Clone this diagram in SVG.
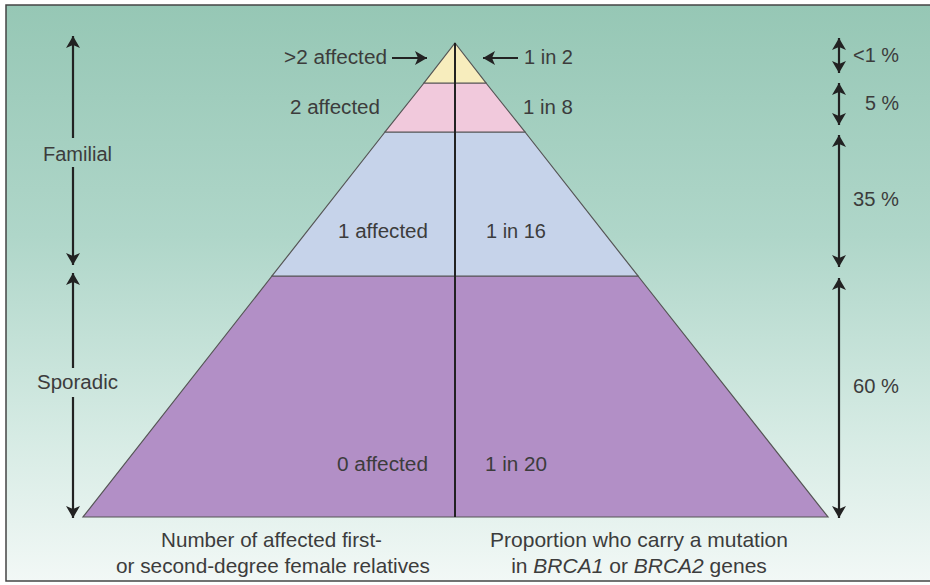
<svg xmlns="http://www.w3.org/2000/svg" width="930" height="585" viewBox="0 0 930 585">
<defs>
<linearGradient id="bg" x1="0" y1="0" x2="0" y2="1">
<stop offset="0" stop-color="#96c7b5"/>
<stop offset="0.4" stop-color="#afd6c9"/>
<stop offset="0.75" stop-color="#d6ebe4"/>
<stop offset="1" stop-color="#f2f8f6"/>
</linearGradient>
<marker id="ah" markerUnits="userSpaceOnUse" markerWidth="14" markerHeight="14" refX="12" refY="7" orient="auto-start-reverse" viewBox="0 0 14 14">
<path d="M0,0 L12,7 L0,14 L3,7 Z" fill="#222"/>
</marker>
<style>
.t{font-family:"Liberation Sans",Arial,sans-serif;font-size:20px;fill:#3c3c3c}
.b{font-family:"Liberation Sans",Arial,sans-serif;font-size:21px;fill:#3c3c3c}
.band{stroke:#555;stroke-width:1.2}
.arr{stroke:#222;stroke-width:2.2;fill:none;marker-start:url(#ah);marker-end:url(#ah)}
.sarr{stroke:#222;stroke-width:2.2;fill:none;marker-end:url(#ah)}
</style>
</defs>
<rect x="6" y="5" width="940" height="576" fill="url(#bg)" stroke="#444" stroke-width="1.5"/>

<g id="pyramid">
<polygon id="band-purple" class="band" points="272,276 638,276 828,517 83,517" fill="#b28fc6"/>
<polygon id="band-blue" class="band" points="385,132 525,132 638,276 272,276" fill="#c6d3ea"/>
<polygon id="band-pink" class="band" points="424,83 486,83 525,132 385,132" fill="#f1c9dc"/>
<polygon id="band-yellow" class="band" points="455,43 486,83 424,83" fill="#f7edbd"/>
<line x1="455" y1="43" x2="455" y2="517" stroke="#222" stroke-width="2"/>
</g>

<g id="labels-left">
<text class="t" x="284" y="64" textLength="103" lengthAdjust="spacingAndGlyphs">&gt;2 affected</text>
<text class="t" x="290" y="114" textLength="90" lengthAdjust="spacingAndGlyphs">2 affected</text>
<text class="t" x="338" y="238" textLength="90" lengthAdjust="spacingAndGlyphs">1 affected</text>
<text class="t" x="337" y="471" textLength="91" lengthAdjust="spacingAndGlyphs">0 affected</text>
</g>
<g id="labels-right">
<text class="t" x="524" y="64" textLength="49" lengthAdjust="spacingAndGlyphs">1 in 2</text>
<text class="t" x="523" y="114" textLength="50" lengthAdjust="spacingAndGlyphs">1 in 8</text>
<text class="t" x="486" y="238" textLength="60" lengthAdjust="spacingAndGlyphs">1 in 16</text>
<text class="t" x="485" y="471" textLength="62" lengthAdjust="spacingAndGlyphs">1 in 20</text>
</g>

<g id="familial">
<text class="t" x="43" y="161" textLength="69" lengthAdjust="spacingAndGlyphs">Familial</text>
</g>
<g id="sporadic">
<text class="t" x="37" y="389" textLength="81" lengthAdjust="spacingAndGlyphs">Sporadic</text>
</g>
<g id="percent">
<text class="t" x="853" y="62" textLength="46" lengthAdjust="spacingAndGlyphs">&lt;1 %</text>
<text class="t" x="865" y="110" textLength="34" lengthAdjust="spacingAndGlyphs">5 %</text>
<text class="t" x="853" y="206" textLength="46" lengthAdjust="spacingAndGlyphs">35 %</text>
<text class="t" x="853" y="393" textLength="46" lengthAdjust="spacingAndGlyphs">60 %</text>
</g>

<g id="connectors">
<line class="sarr" x1="392" y1="58" x2="427" y2="58"/>
<line class="sarr" x1="518" y1="58" x2="483" y2="58"/>
<line class="sarr" x1="73" y1="138" x2="73" y2="36"/>
<line class="sarr" x1="73" y1="167" x2="73" y2="265"/>
<line class="sarr" x1="73" y1="368" x2="73" y2="273"/>
<line class="sarr" x1="73" y1="397" x2="73" y2="518"/>
<line class="arr" x1="839" y1="38" x2="839" y2="73"/>
<line class="arr" x1="839" y1="83" x2="839" y2="125"/>
<line class="arr" x1="839" y1="135" x2="839" y2="267"/>
<line class="arr" x1="839" y1="278" x2="839" y2="518"/>
</g>

<g id="captions">
<text class="b" x="161" y="547" textLength="221" lengthAdjust="spacingAndGlyphs">Number of affected first-</text>
<text class="b" x="116" y="573" textLength="314" lengthAdjust="spacingAndGlyphs">or second-degree female relatives</text>
<text class="b" x="490" y="547" textLength="298" lengthAdjust="spacingAndGlyphs">Proportion who carry a mutation</text>
<text class="b" x="639" y="573" text-anchor="middle">in <tspan font-style="italic">BRCA1</tspan> or <tspan font-style="italic">BRCA2</tspan> genes</text>
</g>
</svg>
